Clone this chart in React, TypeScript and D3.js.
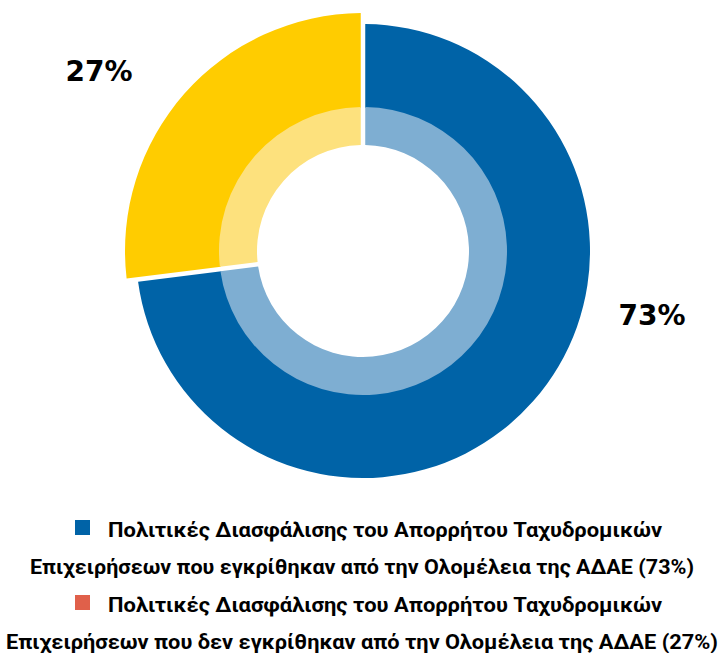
import { useEffect, useRef } from 'react'
import * as d3 from 'd3'

// slice values (%)
const categories = ['approved', 'notApproved']
const values = [73, 27]
const valueLabels = ['73%', '27%']

// ring colours: outer (dark) and inner (light)
const darkColors = ['#0063a7', '#ffcc00']
const lightColors = ['#7eaed2', '#fde17d']
const legendColors = ['#0063a7', '#e0604a']

const legendFirstLines = [
  'Πολιτικές Διασφάλισης του Απορρήτου Ταχυδρομικών',
  'Πολιτικές Διασφάλισης του Απορρήτου Ταχυδρομικών',
]
const legendSecondLines = [
  'Επιχειρήσεων που εγκρίθηκαν από την Ολομέλεια της ΑΔΑΕ (73%)',
  'Επιχειρήσεων που δεν εγκρίθηκαν από την Ολομέλεια της ΑΔΑΕ (27%)',
]

export default function App() {
  const svgRef = useRef<SVGSVGElement>(null)

  useEffect(() => {
    document.body.style.margin = '0'
    if (!svgRef.current) return

    const width = 720
    const height = 653
    const cx = 363
    const cy = 251

    const svg = d3.select(svgRef.current)
    svg.selectAll('*').remove()
    svg.attr('width', width).attr('height', height).attr('viewBox', `0 0 ${width} ${height}`)

    const g = svg.append('g').attr('transform', `translate(${cx},${cy})`)

    const data = categories.map((c, i) => ({ name: c, value: values[i], idx: i }))
    const pie = d3.pie<any>().value(d => d.value).sort(null)
    const arcs = pie(data)

    // outer radius per slice (the yellow one sticks out a bit)
    const outerR = [227, 238]

    const darkArc = d3.arc<any>()
      .innerRadius(143)
      .outerRadius((d: any) => outerR[d.data.idx])
      .padAngle(0.045)
      .padRadius(100)

    const lightArc = d3.arc<any>()
      .innerRadius(106)
      .outerRadius(144)
      .padAngle(0.045)
      .padRadius(100)

    g.selectAll('.dark')
      .data(arcs)
      .join('path')
      .attr('class', 'dark')
      .attr('d', darkArc as any)
      .attr('fill', d => darkColors[d.data.idx])

    g.selectAll('.light')
      .data(arcs)
      .join('path')
      .attr('class', 'light')
      .attr('d', lightArc as any)
      .attr('fill', d => lightColors[d.data.idx])

    // value labels
    const labelPos = [[652, 325], [99, 81]]
    svg.selectAll('.vlabel')
      .data(valueLabels)
      .join('text')
      .attr('class', 'vlabel')
      .attr('x', (d, i) => labelPos[i][0])
      .attr('y', (d, i) => labelPos[i][1])
      .attr('text-anchor', 'middle')
      .attr('font-family', 'DejaVu Sans')
      .attr('font-weight', 'bold')
      .attr('font-size', '28px')
      .attr('fill', '#000')
      .text(d => d)

    // legend
    const rowTop = [537, 612]
    const secondBase = [574, 649]
    const secondLen = [664, 712]
    const legendFont = 'Roboto, "Noto Sans", sans-serif'

    const legend = svg.selectAll('.legend')
      .data(categories)
      .join('g')
      .attr('class', 'legend')

    legend.append('rect')
      .attr('x', 75)
      .attr('y', (d, i) => rowTop[i] - 17)
      .attr('width', 15)
      .attr('height', 15)
      .attr('fill', (d, i) => legendColors[i])

    legend.append('text')
      .attr('x', 108)
      .attr('y', (d, i) => rowTop[i])
      .attr('font-family', legendFont)
      .attr('font-weight', 'bold')
      .attr('font-size', '21px')
      .attr('fill', '#000')
      .attr('textLength', 554)
      .attr('lengthAdjust', 'spacingAndGlyphs')
      .text((d, i) => legendFirstLines[i])

    legend.append('text')
      .attr('x', 362)
      .attr('y', (d, i) => secondBase[i])
      .attr('text-anchor', 'middle')
      .attr('font-family', legendFont)
      .attr('font-weight', 'bold')
      .attr('font-size', '21px')
      .attr('fill', '#000')
      .attr('textLength', (d, i) => secondLen[i])
      .attr('lengthAdjust', 'spacingAndGlyphs')
      .text((d, i) => legendSecondLines[i])
  }, [])

  return <svg ref={svgRef} style={{ display: 'block' }}></svg>
}
